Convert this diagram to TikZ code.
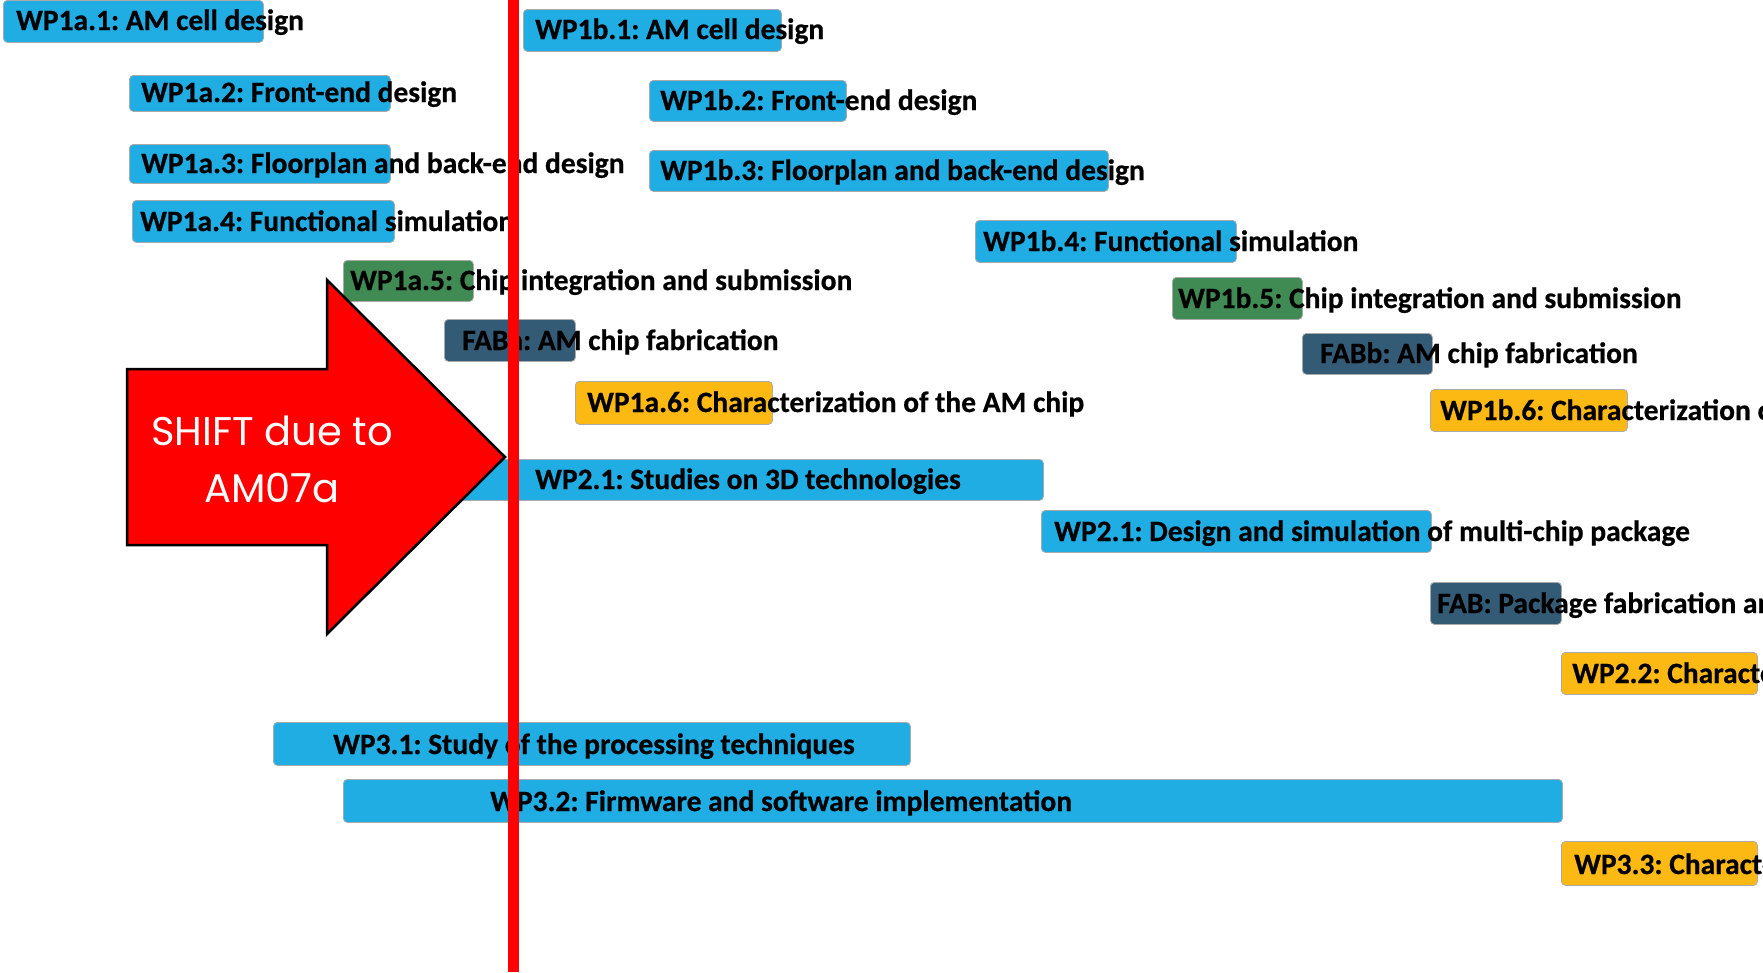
\documentclass[tikz,border=0pt]{standalone}
\usepackage{fontspec}
\setmainfont{Carlito}[BoldFeatures={FakeBold=0.6}]
\newfontfamily\shiftfont{Poppins}
\definecolor{taskblue}{RGB}{31,173,228}
\definecolor{taskgreen}{RGB}{64,138,84}
\definecolor{fabslate}{RGB}{52,91,118}
\definecolor{charorange}{RGB}{253,185,19}
\definecolor{shiftred}{RGB}{255,0,0}
\definecolor{barrim}{RGB}{170,170,170}
\tikzset{
  taskbar/.style={draw=barrim, line width=0.8pt, rounded corners=4pt, fill=#1},
  tasklabel/.style={anchor=base west, inner sep=0pt, font=\bfseries\fontsize{29.5}{33}\selectfont, text=black},
}
\frenchspacing
\begin{document}
\begin{tikzpicture}[x=1pt, y=-1pt]
\useasboundingbox (0,0) rectangle (1763,972);
\clip (0,0) rectangle (1763,972);

% bars: name, left, top, right, bottom, colour
\foreach \n/\l/\t/\r/\b/\c in {
  a1/3/0/263/42/taskblue,
  a2/129/75/390/111/taskblue,
  a3/129/144/390/183/taskblue,
  a4/132/200/394/242/taskblue,
  a5/343/260/473/301/taskgreen,
  fa/444/319/575/361/fabslate,
  a6/575/381/772/424/charorange,
  s21/380/459/1043/500/taskblue,
  b1/523/9/781/51/taskblue,
  b2/649/80/846/121/taskblue,
  b3/649/150/1108/191/taskblue,
  b4/975/220/1236/262/taskblue,
  b5/1172/277/1302/319/taskgreen,
  fb/1302/333/1432/374/fabslate,
  b6/1430/389/1627/431/charorange,
  d21/1041/510/1431/552/taskblue,
  fp/1430/582/1561/624/fabslate,
  c22/1561/652/1757/694/charorange,
  s31/273/722/910/765/taskblue,
  s32/343/779/1562/822/taskblue,
  c33/1561/841/1757/885/charorange}
{
  \node[taskbar=\c, minimum width={\r-\l}, minimum height={\b-\t}, inner sep=0pt, anchor=north west] (bar\n) at (\l,\t) {};
}

% labels
\node[tasklabel] (lbla1) at (16,30) {WP1a.1: AM cell design};
\node[tasklabel] (lbla2) at (141,102) {WP1a.2: Front-end design};
\node[tasklabel] (lbla3) at (141,173) {WP1a.3: Floorplan and back-end design};
\node[tasklabel] (lbla4) at (140,231) {WP1a.4: Functional simulation};
\node[tasklabel] (lbla5) at (350,290) {WP1a.5: Chip integration and submission};
\node[tasklabel] (lblfa) at (462,350) {FABa: AM chip fabrication};
\node[tasklabel] (lbla6) at (587,412) {WP1a.6: Characterization of the AM chip};
\node[tasklabel] (lbls21) at (535,489) {WP2.1: Studies on 3D technologies};
\node[tasklabel] (lblb1) at (535,39) {WP1b.1: AM cell design};
\node[tasklabel] (lblb2) at (660,110) {WP1b.2: Front-end design};
\node[tasklabel] (lblb3) at (660,180) {WP1b.3: Floorplan and back-end design};
\node[tasklabel] (lblb4) at (983,251) {WP1b.4: Functional simulation};
\node[tasklabel] (lblb5) at (1178,308) {WP1b.5: Chip integration and submission};
\node[tasklabel] (lblfb) at (1320,363) {FABb: AM chip fabrication};
\node[tasklabel] (lblb6) at (1440,420) {WP1b.6: Characterization of the AM chip};
\node[tasklabel] (lbld21) at (1054,541) {WP2.1: Design and simulation of multi-chip package};
\node[tasklabel] (lblfp) at (1437,613) {FAB: Package fabrication and};
\node[tasklabel] (lblc22) at (1572,683) {WP2.2: Characterization};
\node[tasklabel] (lbls31) at (333,754) {WP3.1: Study of the processing techniques};
\node[tasklabel] (lbls32) at (490,811) {WP3.2: Firmware and software implementation};
\node[tasklabel] (lblc33) at (1574,874) {WP3.3: Characterization};

% block arrow announcing the shift
\draw[fill=shiftred, draw=black, line width=2.5pt, line join=miter]
  (127,369) -- (327,369) -- (327,280) -- (505,457) -- (327,634) -- (327,545) -- (127,545) -- cycle;
\node[text=white, font=\shiftfont\fontsize{40}{57}\selectfont, align=center, inner sep=0pt] (shift) at (272,459) {SHIFT due to\\AM07a};

% current-date marker
\coordinate (markTop) at (513.5,0);
\coordinate (markBot) at (513.5,972);
\draw[shiftred, line width=11.5pt] (markTop) -- (markBot);
\end{tikzpicture}
\end{document}
